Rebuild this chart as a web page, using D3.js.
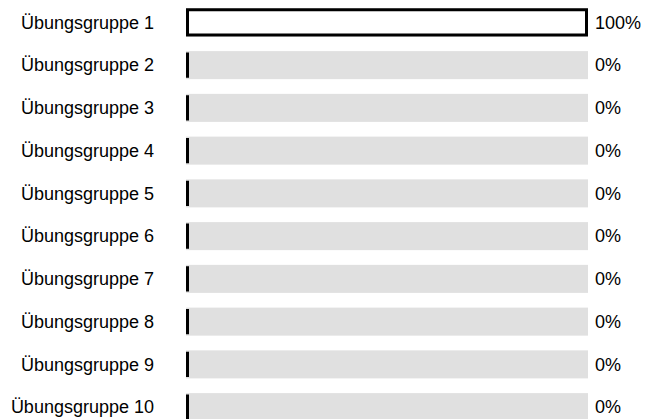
<!DOCTYPE html>
<html>
<head>
<meta charset="utf-8">
<script src="https://cdn.jsdelivr.net/npm/d3@7"></script>
<style>
  html, body { margin: 0; padding: 0; background: #fff; }
  svg { display: block; font-family: "Liberation Sans", Arial, sans-serif; }
</style>
</head>
<body>
<svg id="chart" width="647" height="419"></svg>
<script>
const groups = [
  "Übungsgruppe 1", "Übungsgruppe 2", "Übungsgruppe 3", "Übungsgruppe 4",
  "Übungsgruppe 5", "Übungsgruppe 6", "Übungsgruppe 7", "Übungsgruppe 8",
  "Übungsgruppe 9", "Übungsgruppe 10"
];
const percents = [100, 0, 0, 0, 0, 0, 0, 0, 0, 0];

const svg = d3.select("#chart");

const trackLeft = 186;
const trackRight = 588;
const strokeW = 3;

const yScale = d3
  .scaleBand()
  .domain(groups)
  .range([1, 428.5])
  .paddingInner(0.345)
  .paddingOuter(0.1725);

const xScale = d3
  .scaleLinear()
  .domain([0, 100])
  .range([trackLeft + strokeW / 2, trackRight - strokeW / 2]);

const rows = svg
  .selectAll("g.row")
  .data(groups.map((g, i) => ({ name: g, value: percents[i] })))
  .join("g")
  .attr("class", "row")
  .attr("transform", (d) => `translate(0,${yScale(d.name)})`);

// grey track
rows
  .append("rect")
  .attr("x", trackLeft)
  .attr("y", 0)
  .attr("width", trackRight - trackLeft)
  .attr("height", yScale.bandwidth())
  .attr("fill", "#e0e0e0");

// value bar (path so a 0% bar still shows its outline)
rows
  .append("path")
  .attr("d", (d) => {
    const p = d3.path();
    p.rect(xScale(0), strokeW / 2, xScale(d.value) - xScale(0), yScale.bandwidth() - strokeW);
    return p.toString();
  })
  .attr("fill", "#fff")
  .attr("stroke", "#000")
  .attr("stroke-width", strokeW);

// category labels
rows
  .append("text")
  .attr("x", 154)
  .attr("y", yScale.bandwidth() / 2)
  .attr("dy", "0.35em")
  .attr("text-anchor", "end")
  .attr("font-size", 18)
  .attr("fill", "#000")
  .text((d) => d.name);

// percent labels
rows
  .append("text")
  .attr("x", 595)
  .attr("y", yScale.bandwidth() / 2)
  .attr("dy", "0.35em")
  .attr("font-size", 18)
  .attr("fill", "#000")
  .text((d) => `${d.value}%`);
</script>
</body>
</html>
